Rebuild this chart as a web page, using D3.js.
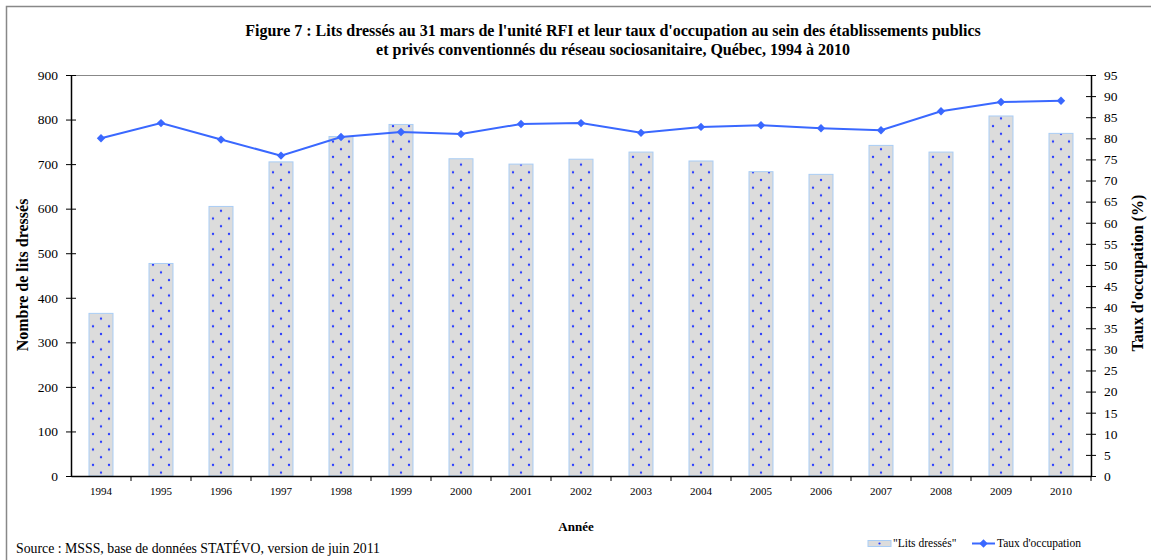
<!DOCTYPE html>
<html>
<head>
<meta charset="utf-8">
<script src="https://cdn.jsdelivr.net/npm/d3@7"></script>
<style>
  body { margin: 0; background: #fff; }
  svg text { font-family: "Liberation Serif", "Times New Roman", serif; fill: #000; }
</style>
</head>
<body>
<script>
// data
var annees = ["1994","1995","1996","1997","1998","1999","2000","2001","2002","2003","2004","2005","2006","2007","2008","2009","2010"];
var litsDresses = [365, 477, 605, 705, 762, 789, 712, 700, 711, 727, 707, 683, 677, 742, 727, 808, 769];
var tauxOccupation = [80.0, 83.6, 79.7, 75.9, 80.3, 81.5, 81.0, 83.4, 83.6, 81.3, 82.7, 83.1, 82.4, 81.9, 86.4, 88.6, 88.9];
var ticksGauche = [0, 100, 200, 300, 400, 500, 600, 700, 800, 900];
var ticksDroite = d3.range(0, 100, 5);

var w = 1151, h = 560;
var mLeft = 71, mRight = 1091, mTop = 75, mBottom = 476;
var serif = "'Liberation Serif', 'Times New Roman', serif";

var svg = d3.select("body").append("svg")
    .attr("width", w)
    .attr("height", h);

// dotted fill for the bars
var defs = svg.append("defs");
var pat = defs.append("pattern")
    .attr("id", "points")
    .attr("patternUnits", "userSpaceOnUse")
    .attr("width", 16)
    .attr("height", 15.4);
pat.append("rect").attr("width", 16).attr("height", 15.4).attr("fill", "#dcdcdc");
[[4, 3], [12, 10.7], [20, 3]].forEach(function(p) {
    pat.append("circle").attr("cx", p[0]).attr("cy", p[1]).attr("r", 1.2).attr("fill", "#2b3cff");
});

// outer frame
svg.append("rect")
    .attr("x", 6.5).attr("y", 6.5)
    .attr("width", w + 10).attr("height", h + 10)
    .attr("fill", "none")
    .attr("stroke", "#888")
    .attr("stroke-width", 1.5);

// title
var titre = svg.append("text")
    .attr("text-anchor", "middle")
    .attr("font-weight", "bold")
    .style("font-size", "16px");
titre.append("tspan").attr("x", 613).attr("y", 36)
    .text("Figure 7 : Lits dressés au 31 mars de l'unité RFI et leur taux d'occupation au sein des établissements publics");
titre.append("tspan").attr("x", 613).attr("y", 55)
    .text("et privés conventionnés du réseau sociosanitaire, Québec, 1994 à 2010");

// scales
var xPos = d3.scaleBand().domain(annees).range([mLeft, mRight]);
var yG = d3.scaleLinear().domain([0, 900]).range([mBottom, mTop]);
var yD = d3.scaleLinear().domain([0, 95]).range([mBottom, mTop]);

// plot area top border
svg.append("line")
    .attr("x1", mLeft).attr("x2", mRight)
    .attr("y1", mTop + 0.5).attr("y2", mTop + 0.5)
    .attr("stroke", "#888");

// bars (each in its own group so the dot pattern starts at the bar's left edge)
var barres = svg.selectAll("g.barre")
    .data(litsDresses)
    .enter()
    .append("g")
    .attr("class", "barre")
    .attr("transform", function(d, i) {
        return "translate(" + (xPos(annees[i]) + xPos.bandwidth() / 2 - 12) + ",0)";
    });
barres.append("rect")
    .attr("x", 0)
    .attr("y", function(d) { return yG(d); })
    .attr("width", 24)
    .attr("height", function(d) { return mBottom - yG(d); })
    .attr("fill", "url(#points)")
    .attr("stroke", "#a9cdf5")
    .attr("stroke-width", 1);

// left axis
var axeG = svg.append("g")
    .attr("transform", "translate(" + mLeft + ",0)")
    .call(d3.axisLeft(yG).tickValues(ticksGauche).tickSize(5).tickSizeOuter(0).tickPadding(8));
axeG.select(".domain").attr("stroke", "#000").attr("stroke-width", 1.5);
axeG.selectAll(".tick line").attr("stroke", "#000").attr("x2", 5).attr("x1", -5);
axeG.selectAll(".tick text").style("font-size", "13.5px").style("font-family", serif);

// right axis
var axeD = svg.append("g")
    .attr("transform", "translate(" + mRight + ",0)")
    .call(d3.axisRight(yD).tickValues(ticksDroite).tickSize(5).tickSizeOuter(0).tickPadding(8));
axeD.select(".domain").attr("stroke", "#000").attr("stroke-width", 1.5);
axeD.selectAll(".tick line").attr("stroke", "#000").attr("x1", -5).attr("x2", 5);
axeD.selectAll(".tick text").style("font-size", "13.5px").style("font-family", serif);

// bottom axis
var axeB = svg.append("g")
    .attr("transform", "translate(0," + mBottom + ")")
    .call(d3.axisBottom(xPos).tickSize(0).tickPadding(11));
axeB.select(".domain").attr("stroke", "#000").attr("stroke-width", 1.5);
axeB.selectAll(".tick text").style("font-size", "11px").style("font-family", serif);
// ticks between categories
svg.append("g").selectAll("line")
    .data(annees)
    .enter()
    .append("line")
    .attr("x1", function(d) { return xPos(d) + xPos.bandwidth(); })
    .attr("x2", function(d) { return xPos(d) + xPos.bandwidth(); })
    .attr("y1", mBottom)
    .attr("y2", mBottom + 5)
    .attr("stroke", "#000");

// occupation line
var ligne = d3.line()
    .x(function(d, i) { return xPos(annees[i]) + xPos.bandwidth() / 2; })
    .y(function(d) { return yD(d); });
svg.append("path")
    .datum(tauxOccupation)
    .attr("d", ligne)
    .attr("fill", "none")
    .attr("stroke", "#3a68ff")
    .attr("stroke-width", 2);
svg.selectAll("path.marque")
    .data(tauxOccupation)
    .enter()
    .append("path")
    .attr("class", "marque")
    .attr("d", d3.symbol().type(d3.symbolDiamond2).size(45))
    .attr("transform", function(d, i) {
        return "translate(" + (xPos(annees[i]) + xPos.bandwidth() / 2) + "," + yD(d) + ")";
    })
    .attr("fill", "#3a68ff");

// axis titles
svg.append("text")
    .attr("transform", "translate(28,275) rotate(-90)")
    .attr("text-anchor", "middle")
    .attr("font-weight", "bold")
    .style("font-size", "16px")
    .text("Nombre de lits dressés");
svg.append("text")
    .attr("transform", "translate(1143,273) rotate(-90)")
    .attr("text-anchor", "middle")
    .attr("font-weight", "bold")
    .style("font-size", "16px")
    .text("Taux d'occupation (%)");
svg.append("text")
    .attr("x", 576).attr("y", 531)
    .attr("text-anchor", "middle")
    .attr("font-weight", "bold")
    .style("font-size", "13px")
    .text("Année");

// legend
var legBarre = svg.append("g").attr("transform", "translate(868,0)");
legBarre.append("rect")
    .attr("x", 0).attr("y", 540.5)
    .attr("width", 23).attr("height", 6)
    .attr("fill", "#dcdcdc")
    .attr("stroke", "#a9cdf5");
legBarre.append("circle").attr("cx", 11.5).attr("cy", 543.5).attr("r", 1.1).attr("fill", "#2b3cff");
svg.append("text")
    .attr("x", 893).attr("y", 547)
    .style("font-size", "11.5px")
    .text("\"Lits dressés\"");
svg.append("line")
    .attr("x1", 972).attr("x2", 995)
    .attr("y1", 543.5).attr("y2", 543.5)
    .attr("stroke", "#3a68ff").attr("stroke-width", 2);
svg.append("path")
    .attr("d", d3.symbol().type(d3.symbolDiamond2).size(45))
    .attr("transform", "translate(983.5,543.5)")
    .attr("fill", "#3a68ff");
svg.append("text")
    .attr("x", 997).attr("y", 547)
    .style("font-size", "11.5px")
    .text("Taux d'occupation");

// source
svg.append("text")
    .attr("x", 16).attr("y", 553)
    .style("font-size", "13.8px")
    .text("Source : MSSS, base de données STATÉVO, version de juin 2011");
</script>
</body>
</html>
